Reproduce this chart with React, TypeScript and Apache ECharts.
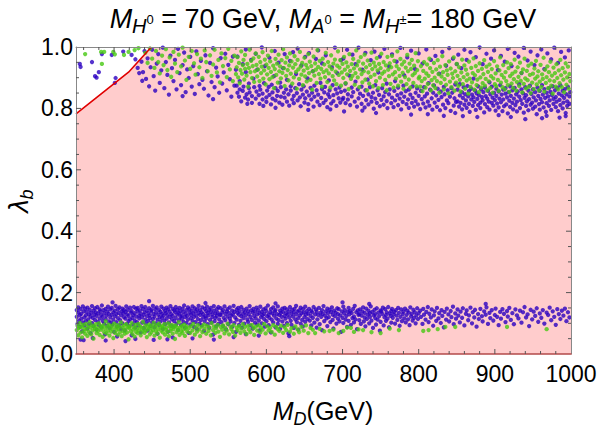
import React, { useEffect, useRef } from "react";
import * as echarts from "echarts";

const FONT = "'Liberation Sans', Arial, Helvetica, sans-serif";

// ---- axis ranges & ticks ----
const xRange = [350, 1000];
const yRange = [0, 1];
const xMajorTicks = [400, 500, 600, 700, 800, 900];
const xMinorTicks = [360, 380, 420, 440, 460, 480, 520, 540, 560, 580, 620, 640, 660, 680, 720, 740, 760, 780, 820, 840, 860, 880, 920, 940, 960, 980];
const yMajorTicks = [0.2, 0.4, 0.6, 0.8];
const yMinorTicks = [0.05, 0.1, 0.15, 0.25, 0.3, 0.35, 0.45, 0.5, 0.55, 0.65, 0.7, 0.75, 0.85, 0.9, 0.95];

// ---- allowed (pink) region boundary and red constraint line ----
const pinkEdge = [[350, 0.782], [419, 0.918], [449, 1.0], [1000, 1.0]];
const redEdge = [[350, 0.782], [419, 0.918], [449, 1.0]];

// ---- blue points, lower band ----
const blueLowA = [[351,.121],[351,.143],[352,.098],[353,.135],[353,.152],[354,.109],[355,.127],[355,.088],[356,.146],[357,.115],[357,.131],[358,.074],[359,.155],[359,.103],[360,.139],[361,.119],[361,.093],[362,.148],[363,.126],[363,.107],[364,.137],[365,.083],[365,.151],[366,.113],[367,.129],[367,.097],[368,.144],[369,.122],[369,.068],[370,.134],[371,.156],[371,.101],[372,.118],[373,.141],[373,.091],[374,.128],[375,.149],[375,.111],[376,.136],[377,.079],[377,.124],[378,.153],[379,.105],[379,.132],[380,.095],[381,.145],[381,.116],[382,.139],[383,.087],[383,.127],[384,.158],[385,.108],[385,.121],[386,.143],[387,.099],[387,.133],[388,.064],[389,.147],[389,.114],[390,.125],[391,.092],[391,.138],[392,.154],[393,.106],[393,.131],[394,.085],[395,.119],[395,.145],[396,.102],[397,.128],[397,.150],[398,.096],[399,.136],[399,.112],[400,.072],[401,.141],[401,.123],[402,.157],[403,.104],[403,.130],[404,.089],[405,.146],[405,.117],[406,.134],[407,.094],[407,.152],[408,.110],[409,.126],[409,.081],[410,.139],[411,.148],[411,.100],[412,.132],[413,.120],[413,.143],[414,.077],[415,.137],[415,.115],[416,.155],[417,.098],[417,.129],[418,.144],[419,.107],[419,.124],[420,.090],[421,.151],[421,.113],[422,.135],[423,.061],[423,.140],[424,.118],[425,.127],[425,.097],[426,.153],[427,.109],[427,.133],[428,.086],[429,.147],[429,.122],[430,.104]];
const blueLowB = [[431,.138],[431,.150],[432,.093],[433,.125],[433,.116],[434,.142],[435,.070],[435,.131],[436,.156],[437,.102],[437,.119],[438,.147],[439,.084],[439,.128],[440,.136],[441,.111],[441,.153],[442,.099],[443,.123],[443,.141],[444,.076],[445,.133],[445,.108],[446,.149],[447,.117],[447,.126],[448,.091],[449,.144],[449,.139],[450,.103],[451,.157],[451,.114],[452,.130],[453,.087],[453,.122],[454,.146],[455,.100],[455,.135],[456,.152],[457,.112],[457,.066],[458,.128],[459,.143],[459,.095],[460,.120],[461,.137],[461,.106],[462,.154],[463,.118],[463,.131],[464,.082],[465,.148],[465,.125],[466,.109],[467,.140],[467,.097],[468,.134],[469,.151],[469,.115],[470,.127],[471,.073],[471,.145],[472,.103],[473,.138],[473,.121],[474,.156],[475,.092],[475,.130],[476,.113],[477,.147],[477,.124],[478,.089],[479,.142],[479,.107],[480,.136],[481,.153],[481,.118],[482,.098],[483,.129],[483,.144],[484,.078],[485,.133],[485,.110],[486,.150],[487,.122],[487,.139],[488,.094],[489,.126],[489,.115],[490,.148],[491,.105],[491,.137],[492,.158],[493,.120],[493,.086],[494,.131],[495,.143],[495,.101],[496,.124],[497,.152],[497,.112],[498,.069],[499,.135],[499,.146],[500,.096],[501,.128],[501,.117],[502,.141],[503,.155],[503,.108],[504,.132],[505,.088],[505,.121],[506,.149],[507,.104],[507,.138],[508,.125],[509,.081],[509,.145],[510,.114],[511,.134],[511,.157],[512,.099],[513,.127],[513,.143],[514,.110],[515,.136],[515,.093],[516,.152],[517,.119],[517,.130],[518,.075],[519,.147],[519,.106],[520,.123],[521,.140],[521,.116],[522,.154],[523,.097],[523,.133],[524,.126],[525,.085],[525,.144],[526,.111],[527,.137],[527,.150],[528,.102],[529,.129],[529,.120],[530,.063],[531,.141],[531,.156],[532,.107],[533,.132],[533,.118],[534,.090],[535,.146],[535,.124],[536,.135],[537,.098],[537,.153],[538,.113],[539,.128]];
const blueLowC = [[540,.127],[540,.149],[541,.104],[542,.136],[543,.091],[543,.143],[544,.118],[545,.155],[546,.110],[546,.131],[547,.080],[548,.139],[549,.122],[549,.146],[550,.097],[551,.133],[552,.115],[552,.152],[553,.106],[554,.125],[555,.088],[555,.141],[556,.129],[557,.157],[558,.101],[558,.137],[559,.119],[560,.072],[561,.145],[561,.112],[562,.134],[563,.150],[564,.095],[564,.128],[565,.140],[566,.108],[567,.123],[567,.153],[568,.086],[569,.131],[570,.117],[570,.144],[571,.099],[572,.136],[573,.126],[573,.065],[574,.148],[575,.113],[576,.139],[576,.105],[577,.130],[578,.156],[579,.093],[579,.121],[580,.142],[581,.111],[582,.135],[582,.083],[583,.147],[584,.124],[585,.102],[585,.138],[586,.116],[587,.151],[588,.096],[588,.129],[589,.143],[590,.109],[591,.133],[591,.077],[592,.154],[593,.120],[594,.137],[594,.100],[595,.126],[596,.145],[597,.114],[597,.131],[598,.089],[599,.149],[600,.107],[600,.140],[601,.123],[602,.158],[603,.094],[603,.128],[604,.118],[605,.136],[606,.070],[606,.146],[607,.112],[608,.132],[609,.103],[609,.152],[610,.125],[611,.139],[612,.087],[612,.143],[613,.116],[614,.130],[615,.098],[615,.155],[616,.110],[617,.127],[618,.141],[618,.082],[619,.134],[620,.121],[621,.148],[621,.106],[622,.137],[623,.092],[624,.124],[624,.150],[625,.115],[626,.133],[627,.101],[627,.145],[628,.128],[629,.067],[630,.139],[630,.119],[631,.153],[632,.108],[633,.131],[633,.095],[634,.144],[635,.122],[636,.136],[636,.085],[637,.147],[638,.113],[639,.129],[639,.157],[640,.104],[641,.138],[642,.117],[642,.079],[643,.142],[644,.126],[645,.151],[645,.099],[646,.133],[647,.111],[648,.146],[648,.090],[649,.135],[650,.120],[651,.154],[651,.105],[652,.128],[653,.140],[654,.114]];
const blueLowD = [[655,.132],[656,.147],[657,.109],[658,.124],[659,.141],[659,.093],[660,.136],[661,.118],[662,.153],[663,.102],[664,.129],[665,.145],[666,.086],[666,.138],[667,.113],[668,.127],[669,.150],[670,.097],[671,.134],[672,.121],[673,.143],[673,.078],[674,.131],[675,.156],[676,.107],[677,.125],[678,.139],[679,.116],[680,.148],[680,.091],[681,.133],[682,.120],[683,.144],[684,.104],[685,.137],[686,.152],[687,.111],[687,.128],[688,.083],[689,.141],[690,.123],[691,.135],[692,.099],[693,.149],[694,.115],[694,.130],[695,.146],[696,.106],[697,.126],[698,.072],[699,.139],[700,.118],[701,.154],[701,.101],[702,.132],[703,.143],[704,.112],[705,.124],[706,.088],[707,.137],[708,.150],[708,.108],[709,.129],[710,.140],[711,.095],[712,.134],[713,.117],[714,.147],[715,.103],[715,.122],[716,.157],[717,.113],[718,.136],[719,.081],[720,.142],[721,.127],[722,.110],[722,.131],[723,.145],[724,.098],[725,.125],[726,.138],[727,.152],[728,.106],[729,.119],[729,.134],[730,.090],[731,.148],[732,.114],[733,.128],[734,.141],[735,.100],[736,.133],[736,.121],[737,.155],[738,.109],[739,.137],[740,.085],[741,.126],[742,.144],[743,.117],[743,.130],[744,.096],[745,.149],[746,.112],[747,.135],[748,.123],[749,.076],[750,.142],[750,.105],[751,.139],[752,.131],[753,.151],[754,.093],[755,.120],[756,.146],[757,.108],[757,.127],[758,.136],[759,.115],[760,.153],[761,.087],[762,.132],[763,.124],[764,.140],[764,.102],[765,.147],[766,.118],[767,.129],[768,.137],[769,.099],[770,.143],[771,.125],[772,.111],[773,.150],[774,.134],[775,.092],[776,.121],[777,.145],[778,.107],[779,.130],[780,.138],[781,.116],[782,.148],[783,.103],[784,.127],[785,.141],[786,.113],[787,.135],[788,.094],[789,.152],[790,.122],[791,.131],[792,.109],[793,.144],[794,.118],[795,.136],[796,.100],[797,.126],[798,.149],[799,.114],[800,.133]];
const blueLowE = [[802,.141],[803,.121],[805,.098],[806,.147],[807,.128],[809,.112],[810,.137],[812,.153],[813,.104],[814,.131],[816,.119],[817,.145],[819,.092],[820,.126],[821,.139],[823,.108],[824,.150],[826,.116],[827,.133],[829,.101],[830,.143],[831,.124],[833,.087],[834,.137],[836,.112],[837,.148],[839,.129],[840,.106],[842,.140],[843,.120],[845,.154],[846,.097],[848,.132],[849,.115],[851,.145],[852,.125],[854,.103],[855,.138],[857,.118],[858,.149],[860,.093],[862,.131],[863,.142],[865,.110],[866,.126],[868,.151],[870,.100],[871,.136],[873,.119],[874,.144],[876,.089],[878,.130],[879,.114],[881,.147],[883,.123],[884,.106],[886,.139],[888,.128],[889,.152],[891,.098],[893,.134],[894,.117],[896,.143],[898,.109],[900,.127],[901,.148],[903,.121],[905,.094],[907,.137],[908,.115],[910,.146],[912,.131],[914,.104],[916,.140],[917,.122],[919,.150],[921,.111],[923,.133],[925,.097],[927,.145],[929,.126],[931,.116],[933,.141],[935,.102],[937,.136],[939,.153],[941,.119],[943,.129],[945,.091],[947,.144],[949,.113],[951,.138],[953,.124],[955,.149],[957,.105],[959,.132],[961,.118],[963,.143],[965,.099],[968,.135],[970,.127],[972,.151],[974,.110],[976,.139],[978,.121],[980,.095],[982,.146],[984,.130],[986,.114],[988,.141],[990,.125],[992,.148],[994,.107],[996,.136],[998,.119]];
const blueLowExtra = [[398,.168],[446,.172],[520,.166],[612,.165],[700,.168],[735,.163],[888,.163],[360,.045],[415,.042],[470,.048],[356,.047],[372,.052],[389,.044],[404,.057],[428,.049],[452,.046],[477,.054],[503,.051],[531,.047],[557,.055],[590,.060],[630,.058]];

// ---- green points, lower band ----
const greenLowA = [[351,.078],[352,.092],[353,.061],[354,.085],[355,.101],[356,.070],[357,.088],[358,.054],[359,.095],[360,.074],[361,.083],[362,.066],[363,.098],[364,.080],[365,.059],[366,.090],[367,.072],[368,.104],[369,.086],[370,.064],[371,.093],[372,.077],[373,.050],[374,.089],[375,.081],[376,.097],[377,.068],[378,.084],[379,.075],[380,.100],[381,.062],[382,.091],[383,.079],[384,.087],[385,.056],[386,.094],[387,.071],[388,.083],[389,.106],[390,.067],[391,.089],[392,.076],[393,.096],[394,.060],[395,.085],[396,.073],[397,.092],[398,.081],[399,.052],[400,.099],[401,.069],[402,.087],[403,.078],[404,.094],[405,.063],[406,.082],[407,.090],[408,.071],[409,.103],[410,.058],[411,.086],[412,.075],[413,.093],[414,.066],[415,.080],[416,.097],[417,.070],[418,.088],[419,.048],[420,.084],[421,.091],[422,.074],[423,.101],[424,.065],[425,.079],[426,.087],[427,.057],[428,.095],[429,.072],[430,.083],[431,.068],[432,.098],[433,.077],[434,.090],[435,.061],[436,.086],[437,.073],[438,.105],[439,.082],[440,.069],[441,.093],[442,.076],[443,.055],[444,.089],[445,.080],[446,.096],[447,.064],[448,.085],[449,.071],[450,.092],[451,.078],[452,.102],[453,.060],[454,.087],[455,.074],[456,.094],[457,.067],[458,.081],[459,.099],[460,.053],[461,.088],[462,.076],[463,.091],[464,.070],[465,.084],[466,.097],[467,.063],[468,.079],[469,.086],[470,.072],[471,.100],[472,.058],[473,.090],[474,.075],[475,.083],[476,.095],[477,.066],[478,.081],[479,.089],[480,.049],[481,.093],[482,.071],[483,.085],[484,.078],[485,.104],[486,.062],[487,.087],[488,.074],[489,.092],[490,.068],[491,.080],[492,.096],[493,.059],[494,.083],[495,.090],[496,.073]];
const greenLowB = [[498,.084],[500,.069],[501,.091],[503,.077],[504,.098],[506,.063],[507,.086],[509,.073],[510,.094],[512,.080],[513,.058],[515,.089],[516,.071],[518,.096],[519,.082],[521,.066],[522,.092],[524,.075],[525,.087],[527,.061],[528,.101],[530,.078],[531,.090],[533,.069],[534,.084],[536,.095],[537,.073],[539,.056],[540,.088],[542,.079],[543,.093],[545,.067],[546,.085],[548,.076],[549,.099],[551,.064],[553,.089],[554,.081],[556,.072],[557,.094],[559,.060],[561,.086],[562,.077],[564,.091],[566,.069],[567,.083],[569,.097],[571,.074],[572,.088],[574,.065],[576,.092],[577,.080],[579,.071],[581,.095],[583,.084],[584,.062],[586,.089],[588,.076],[590,.093],[592,.070],[593,.086],[595,.079],[597,.098],[599,.067],[601,.090],[603,.077],[605,.085],[607,.072],[609,.094],[611,.063],[613,.088],[615,.081],[617,.075],[619,.092],[622,.069],[624,.087],[626,.078],[628,.095],[631,.073],[633,.084],[636,.066],[638,.090],[641,.080],[643,.071],[646,.088],[649,.076],[652,.093],[655,.068],[658,.085],[661,.079]];
const greenLowC = [[664,.068],[670,.082],[676,.074],[683,.075],[688,.079],[695,.068],[701,.075],[706,.086],[711,.085],[715,.072],[721,.080],[727,.078],[738,.071],[750,.068],[762,.083],[774,.078],[806,.075],[813,.078],[825,.081],[835,.088],[848,.088],[916,.088],[968,.081]];

// ---- blue points, upper band ----
const blueUpA = [[436,.952],[438,.918],[440,.987],[442,.896],[444,.963],[446,.872],[448,.934],[450,.991],[452,.905],[454,.858],[456,.946],[458,.977],[460,.883],[462,.924],[464,.998],[466,.866],[468,.951],[470,.909],[472,.845],[474,.972],[476,.931],[478,.889],[480,.958],[482,.862],[484,.994],[486,.915],[488,.876],[490,.941],[492,.982],[494,.853],[496,.927],[498,.899],[500,.968],[502,.871],[504,.938],[506,.847],[508,.986],[510,.912],[512,.879],[514,.955],[516,.893],[518,.864],[520,.973],[522,.921],[524,.842],[526,.948],[528,.886],[530,.996],[532,.869],[534,.933],[536,.904],[538,.851],[540,.964],[542,.881],[544,.917],[546,.978],[548,.859],[550,.942],[552,.895],[554,.838],[556,.969],[558,.874],[560,.926],[428,.960],[431,.932],[433,.915],[437,.890]];
const blueUpB = [[561,.874],[562,.851],[562,.969],[564,.838],[565,.862],[565,.889],[567,.823],[569,.944],[569,.857],[570,.871],[572,.835],[573,.992],[573,.918],[574,.846],[576,.829],[577,.881],[577,.866],[578,.852],[580,.958],[581,.818],[581,.840],[583,.897],[584,.869],[586,.832],[586,.978],[587,.855],[588,.926],[590,.843],[591,.815],[591,.873],[592,.861],[594,.999],[595,.829],[595,.848],[597,.882],[598,.938],[600,.836],[600,.821],[601,.858],[603,.870],[604,.965],[604,.844],[606,.813],[607,.877],[608,.852],[608,.832],[610,.905],[611,.987],[612,.866],[612,.826],[614,.841],[615,.857],[616,.949],[617,.819],[618,.884],[619,.838],[619,.869],[621,.812],[622,.931],[623,.851],[624,.977],[624,.835],[626,.862],[627,.822],[627,.893],[629,.846],[630,.809],[631,.955],[632,.872],[632,.858],[634,.829],[635,.983],[636,.841],[636,.817],[638,.866],[639,.912],[640,.850],[641,.826],[641,.995],[643,.879],[644,.836],[645,.807],[646,.861],[646,.940],[648,.845],[649,.872],[650,.819],[651,.968],[651,.833],[653,.855],[654,.898],[655,.814],[656,.842],[656,.980],[658,.867],[659,.829],[660,.851],[661,.921],[662,.806],[663,.838],[663,.874],[665,.961],[666,.859],[667,.822],[668,.845],[668,.989],[670,.811],[671,.883],[672,.834],[673,.863],[673,.947],[675,.818],[676,.852],[677,.870],[678,.827],[678,.973],[680,.804],[681,.846],[682,.891],[683,.837],[683,.859],[685,.816],[686,.934],[687,.876],[688,.843],[688,.824],[690,.998],[691,.862],[692,.808],[693,.849],[693,.915],[695,.833],[696,.868],[697,.819],[698,.957],[698,.854],[700,.829]];
const blueUpC = [[701,.834],[701,.962],[703,.858],[704,.817],[704,.881],[706,.991],[707,.829],[707,.846],[709,.907],[710,.811],[712,.868],[712,.839],[713,.975],[714,.853],[716,.822],[717,.944],[717,.887],[719,.806],[720,.862],[721,.833],[721,.998],[723,.848],[725,.815],[725,.871],[726,.926],[727,.841],[729,.803],[730,.859],[730,.981],[731,.827],[733,.894],[734,.846],[734,.813],[736,.869],[737,.957],[738,.822],[738,.837],[740,.851],[741,.799],[742,.985],[743,.876],[743,.832],[745,.818],[746,.859],[747,.917],[748,.844],[749,.807],[749,.969],[751,.828],[752,.866],[754,.839],[754,.812],[755,.994],[756,.853],[758,.881],[758,.824],[759,.801],[761,.937],[761,.846],[762,.862],[764,.817],[765,.976],[765,.835],[767,.804],[768,.857],[769,.889],[769,.826],[771,.952],[772,.843],[773,.811],[773,.868],[775,.832],[776,.997],[777,.849],[777,.797],[779,.821],[780,.874],[781,.908],[781,.838],[783,.856],[784,.814],[785,.966],[786,.829],[787,.802],[787,.861],[789,.845],[790,.988],[791,.818],[792,.872],[792,.834],[794,.806],[795,.929],[796,.851],[796,.824],[798,.865],[799,.813],[800,.979],[800,.841],[802,.798],[803,.857],[804,.830],[805,.946],[806,.816],[807,.869],[808,.839],[809,.803],[810,.992],[811,.848],[812,.822],[813,.882],[814,.809],[815,.861],[816,.958],[817,.833],[818,.796],[819,.851],[820,.875],[821,.819],[822,.971],[823,.842],[824,.805],[825,.864],[826,.828],[827,.913],[828,.794],[829,.855],[830,.837],[831,.984],[832,.812],[833,.870],[834,.846],[835,.801],[836,.939],[837,.826],[838,.859],[839,.817],[840,.996],[841,.838],[842,.792],[843,.866],[844,.851],[845,.962],[846,.809],[847,.833],[848,.878],[849,.821],[850,.944],[848,.785]];
const blueUpD = [[851,.823],[851,.861],[852,.975],[853,.806],[854,.842],[854,.879],[855,.818],[856,.931],[857,.852],[857,.797],[858,.834],[859,.869],[860,.991],[860,.812],[861,.846],[862,.826],[863,.802],[863,.958],[864,.873],[865,.839],[866,.815],[866,.856],[867,.789],[868,.983],[869,.829],[869,.864],[870,.845],[871,.808],[872,.897],[872,.836],[873,.821],[874,.858],[875,.795],[875,.967],[876,.849],[877,.831],[878,.872],[878,.811],[879,.843],[880,.999],[881,.819],[881,.801],[882,.862],[883,.837],[884,.944],[884,.826],[885,.853],[886,.787],[887,.868],[887,.814],[888,.840],[889,.978],[890,.804],[890,.832],[891,.857],[892,.822],[893,.885],[893,.796],[894,.846],[895,.962],[896,.818],[896,.871],[897,.835],[898,.809],[899,.851],[899,.989],[900,.827],[901,.793],[902,.864],[902,.841],[903,.816],[904,.925],[905,.855],[905,.803],[906,.832],[907,.876],[908,.820],[908,.971],[909,.845],[910,.791],[911,.861],[911,.829],[912,.807],[913,.952],[914,.848],[914,.866],[915,.813],[916,.836],[917,.784],[917,.994],[918,.853],[919,.825],[920,.872],[920,.805],[921,.841],[922,.938],[923,.818],[923,.859],[924,.797],[925,.832],[926,.981],[926,.867],[927,.811],[928,.846],[929,.822],[929,.790],[930,.855],[931,.969],[932,.838],[932,.879],[933,.801],[934,.827],[935,.862],[935,.915],[936,.815],[937,.849],[938,.786],[938,.997],[939,.834],[940,.869],[941,.808],[941,.843],[942,.823],[943,.956],[944,.858],[944,.794],[945,.830],[946,.874],[947,.812],[947,.985],[948,.847],[949,.819],[950,.862],[950,.799],[951,.836],[952,.941],[953,.806],[953,.853],[954,.826],[955,.781],[956,.868],[956,.973],[957,.841],[958,.814],[959,.857],[959,.796],[960,.831],[961,.992],[962,.876],[962,.820],[963,.845],[964,.803],[965,.863],[965,.928],[966,.834],[967,.789],[968,.851],[968,.817],[969,.979],[970,.839],[971,.866],[971,.808],[972,.826],[973,.854],[974,.960],[974,.795],[975,.843],[976,.872],[977,.815],[977,.831],[978,.998],[979,.859],[980,.804],[980,.837],[981,.822],[982,.867],[983,.948],[983,.791],[984,.848],[985,.828],[986,.811],[986,.875],[987,.984],[988,.842],[989,.800],[989,.857],[990,.819],[991,.834],[992,.966],[992,.863],[993,.785],[994,.846],[995,.823],[995,.808],[996,.870],[997,.989],[998,.839],[998,.815],[999,.853],[921,.772],[962,.768],[993,.775]];
const blueUpSparse = [[490,.840],[530,.830],[575,.815],[612,.802],[655,.795],[702,.790],[744,.785],[790,.780],[833,.776],[877,.772],[940,.765],[985,.770],[596,.808],[684,.797],[726,.793],[812,.781],[858,.775],[905,.778],[968,.776]];
const blueCorner = [[355,.945],[356,.935],[371,.951],[375,.905],[377,.900],[380,.918],[384,.977],[397,.974],[412,.985],[423,.974],[402,.899],[401,.883]];

// ---- green points, upper band ----
const greenUpA = [[441,.981],[444,.948],[447,.995],[450,.962],[453,.932],[455,.987],[458,.951],[460,.914],[463,.972],[465,.941],[468,.993],[470,.925],[473,.966],[475,.903],[478,.984],[480,.946],[483,.918],[485,.975],[488,.937],[490,.998],[493,.956],[495,.893],[498,.968],[500,.929],[502,.987],[505,.947],[507,.910],[509,.977],[512,.934],[514,.962],[516,.899],[519,.989],[521,.951],[523,.921],[526,.973],[528,.906],[530,.943],[532,.991],[535,.917],[537,.958],[539,.885],[541,.979],[543,.938],[546,.964],[548,.902],[550,.994],[552,.927],[554,.955],[556,.889],[558,.972],[560,.912]];
const greenUpB = [[561,.934],[562,.967],[563,.901],[564,.948],[565,.882],[566,.925],[567,.986],[568,.913],[569,.941],[570,.958],[571,.894],[572,.929],[572,.974],[574,.907],[575,.945],[576,.871],[577,.932],[578,.991],[579,.918],[580,.955],[581,.899],[582,.938],[583,.963],[584,.886],[585,.921],[586,.979],[587,.942],[588,.904],[589,.927],[590,.968],[591,.889],[592,.951],[593,.915],[594,.936],[595,.983],[596,.897],[597,.924],[598,.959],[599,.878],[600,.943],[601,.911],[602,.972],[603,.932],[604,.895],[605,.953],[606,.919],[607,.987],[608,.902],[609,.939],[610,.866],[611,.928],[612,.961],[613,.909],[614,.946],[615,.884],[616,.975],[617,.921],[618,.937],[619,.898],[620,.957],[621,.916],[622,.993],[623,.931],[624,.873],[625,.949],[626,.906],[627,.966],[628,.925],[629,.891],[630,.940],[631,.979],[632,.913],[633,.953],[634,.881],[635,.933],[636,.901],[637,.970],[638,.944],[639,.919],[640,.864],[641,.958],[642,.927],[643,.896],[644,.984],[645,.936],[646,.910],[647,.948],[648,.876],[649,.923],[650,.965],[651,.904],[652,.942],[653,.888],[654,.931],[655,.977],[656,.915],[657,.952],[658,.893],[659,.938],[660,.861],[661,.921],[662,.969],[663,.907],[664,.947],[665,.926],[666,.883],[667,.990],[668,.935],[669,.912],[670,.955],[671,.897],[672,.929],[673,.871],[674,.962],[675,.918],[676,.943],[677,.902],[678,.981],[679,.924],[680,.886],[681,.951],[682,.914],[683,.937],[684,.868],[685,.973],[686,.928],[687,.905],[688,.946],[689,.891],[690,.959],[691,.920],[692,.879],[693,.939],[694,.986],[695,.909],[696,.933],[697,.957],[698,.874],[699,.917],[700,.945],[701,.899],[702,.968],[703,.926],[704,.882],[705,.950],[706,.911],[707,.936],[708,.863],[709,.977],[710,.922],[711,.896],[712,.944],[713,.906],[714,.961],[715,.930],[716,.877],[717,.915],[718,.989],[719,.940],[720,.901],[721,.953],[722,.869],[723,.927],[724,.967],[725,.912],[726,.885],[727,.946],[728,.921],[729,.975],[730,.894],[731,.934],[732,.859],[733,.956],[734,.917],[735,.881],[736,.942],[737,.903],[738,.982],[739,.928],[740,.872],[741,.949],[742,.910],[743,.937],[744,.889],[745,.964],[746,.924],[747,.866],[748,.945],[749,.900],[750,.931],[751,.978],[752,.913],[753,.876],[754,.951],[755,.920],[756,.893],[757,.940],[758,.859],[759,.968],[760,.926],[761,.905],[762,.947],[763,.880],[764,.934],[765,.971],[766,.911],[767,.868],[768,.955],[769,.918],[770,.897],[771,.938],[772,.986],[773,.874],[774,.928],[775,.906],[776,.961],[777,.887],[778,.943],[779,.916],[780,.864],[781,.952],[782,.902],[783,.933],[784,.879],[785,.974],[786,.921],[787,.894],[788,.946],[789,.868],[790,.929],[791,.958],[792,.908],[793,.883],[794,.939],[795,.915],[796,.980],[797,.872],[798,.925],[799,.954],[800,.898]];
const greenUpC = [[801,.903],[802,.871],[803,.938],[804,.889],[805,.856],[806,.922],[807,.951],[808,.897],[809,.868],[810,.914],[811,.943],[812,.880],[813,.906],[814,.962],[815,.931],[816,.859],[817,.892],[818,.919],[819,.875],[820,.948],[821,.900],[822,.866],[823,.927],[824,.889],[825,.957],[826,.912],[827,.851],[828,.936],[829,.883],[830,.904],[831,.970],[832,.918],[833,.862],[834,.895],[835,.941],[836,.877],[837,.924],[838,.909],[839,.849],[840,.953],[841,.887],[842,.930],[843,.869],[844,.913],[845,.899],[846,.966],[847,.858],[848,.921],[849,.884],[850,.945],[851,.906],[852,.873],[853,.934],[854,.893],[855,.855],[856,.917],[857,.959],[858,.879],[859,.902],[860,.940],[861,.864],[862,.926],[863,.891],[864,.911],[865,.848],[866,.952],[867,.897],[868,.870],[869,.932],[870,.885],[871,.915],[872,.963],[873,.861],[874,.908],[875,.938],[876,.876],[877,.894],[878,.922],[879,.853],[880,.947],[881,.901],[882,.868],[883,.929],[884,.882],[885,.912],[886,.957],[887,.874],[888,.896],[889,.936],[890,.859],[891,.919],[892,.888],[893,.943],[894,.866],[895,.905],[896,.928],[897,.851],[898,.898],[899,.954],[900,.879],[901,.914],[902,.872],[903,.937],[904,.893],[905,.857],[906,.924],[907,.966],[908,.884],[909,.909],[910,.869],[911,.941],[912,.900],[913,.862],[914,.918],[915,.889],[916,.950],[917,.876],[918,.931],[919,.854],[920,.905],[921,.944],[922,.881],[923,.913],[924,.867],[925,.895],[926,.959],[927,.920],[928,.858],[929,.886],[930,.934],[931,.903],[932,.873],[933,.949],[934,.890],[935,.916],[936,.852],[937,.927],[938,.880],[939,.962],[940,.898],[941,.865],[942,.922],[943,.892],[944,.939],[945,.871],[946,.909],[947,.850],[948,.946],[949,.884],[950,.913],[951,.863],[952,.930],[953,.897],[954,.955],[955,.878],[956,.904],[957,.921],[958,.859],[959,.887],[960,.942],[961,.870],[962,.911],[963,.896],[964,.965],[965,.855],[966,.926],[967,.883],[968,.902],[969,.937],[970,.866],[971,.918],[972,.891],[973,.952],[974,.874],[975,.907],[976,.848],[977,.933],[978,.889],[979,.915],[980,.871],[981,.944],[982,.899],[983,.862],[984,.924],[985,.882],[986,.958],[987,.908],[988,.869],[989,.931],[990,.894],[991,.853],[992,.917],[993,.947],[994,.877],[995,.901],[996,.936],[997,.864],[998,.912],[999,.889]];
const greenCorner = [[362,.977],[383,.984],[387,.984],[399,.984],[401,.976],[384,.945],[413,.974],[419,.984],[427,.990],[432,.996]];

const BLUE = "#2a00c0";
const GREEN = "#46c812";

export default function App() {
  const ref = useRef<HTMLDivElement>(null);
  useEffect(() => {
    document.body.style.margin = "0";
    const chart = echarts.init(ref.current!, null, { renderer: "svg" });

    const blue = [...blueLowA, ...blueLowB, ...blueLowC, ...blueLowD, ...blueLowE, ...blueLowExtra, ...blueUpA, ...blueUpB, ...blueUpC, ...blueUpD, ...blueUpSparse, ...blueCorner];
    const green = [...greenLowA, ...greenLowB, ...greenLowC, ...greenUpA, ...greenUpB, ...greenUpC, ...greenCorner];

    const xTickData = [...xMajorTicks.map((v) => [v, 0.5, 1]), ...xMinorTicks.map((v) => [v, 0.5, 0])];
    const yTickData = [...yMajorTicks.map((v) => [675, v, 1]), ...yMinorTicks.map((v) => [675, v, 0])];

    const tickStyle = { stroke: "#555", lineWidth: 1 };
    const rich = (main: number, sub: number, sup: number) => ({
      m: { fontStyle: "italic", fontSize: main, lineHeight: 34, fontFamily: FONT, fill: "#000" },
      n: { fontSize: main, lineHeight: 34, fontFamily: FONT, fill: "#000" },
      s: { fontStyle: "italic", fontSize: sub, lineHeight: sub, verticalAlign: "bottom", fontFamily: FONT, fill: "#000" },
      p: { fontSize: sup, lineHeight: sup, verticalAlign: "middle", fontFamily: FONT, fill: "#000" },
    });

    const option: any = {
      animation: false,
      backgroundColor: "#ffffff",
      textStyle: { fontFamily: FONT },
      grid: { left: 76, right: 29, top: 47, bottom: 75, show: false },
      xAxis: [
        {
          type: "value", min: xRange[0], max: xRange[1], splitNumber: 7, z: 10,
          axisLine: { show: true, onZero: false, lineStyle: { color: "#b34a4a", width: 1.5 } },
          axisTick: { show: false }, splitLine: { show: false },
          axisLabel: {
            margin: 8, fontSize: 23, color: "#000", fontFamily: FONT, showMinLabel: false,
            formatter: (v: number) => (v % 100 === 0 ? String(v) : ""),
          },
        },
        {
          type: "value", position: "top", min: xRange[0], max: xRange[1], z: 10,
          axisLine: { show: true, onZero: false, lineStyle: { color: "#888", width: 1 } },
          axisTick: { show: false }, splitLine: { show: false }, axisLabel: { show: false },
        },
      ],
      yAxis: [
        {
          type: "value", min: yRange[0], max: yRange[1], interval: 0.2, z: 10,
          axisLine: { show: true, onZero: false, lineStyle: { color: "#888", width: 1 } },
          axisTick: { show: false }, splitLine: { show: false },
          axisLabel: { margin: 3, fontSize: 23, color: "#000", fontFamily: FONT, formatter: (v: number) => v.toFixed(1) },
        },
        {
          type: "value", position: "right", min: yRange[0], max: yRange[1], interval: 0.2, z: 10,
          axisLine: { show: true, onZero: false, lineStyle: { color: "#888", width: 1 } },
          axisTick: { show: false }, splitLine: { show: false }, axisLabel: { show: false },
        },
      ],
      series: [
        {
          type: "line", data: pinkEdge, symbol: "none", z: 1, silent: true,
          lineStyle: { width: 0 }, areaStyle: { color: "#ffcccc", opacity: 1 },
        },
        {
          type: "scatter", data: blue, symbol: "circle", symbolSize: 4.3, z: 3, silent: true,
          itemStyle: { color: BLUE },
        },
        {
          type: "scatter", data: green, symbol: "circle", symbolSize: 4.3, z: 4, silent: true,
          itemStyle: { color: GREEN },
        },
        {
          type: "line", data: redEdge, symbol: "none", z: 5, silent: true,
          lineStyle: { color: "#e00000", width: 1.6 },
        },
        {
          type: "custom", data: xTickData, z: 11, silent: true, clip: false,
          encode: { x: 0, y: 1 },
          renderItem: (params: any, api: any) => {
            const v = api.value(0);
            const len = api.value(2) === 1 ? 5 : 3;
            const b = api.coord([v, yRange[0]]);
            const t = api.coord([v, yRange[1]]);
            return {
              type: "group",
              children: [
                { type: "line", shape: { x1: b[0], y1: b[1], x2: b[0], y2: b[1] - len }, style: tickStyle },
                { type: "line", shape: { x1: t[0], y1: t[1], x2: t[0], y2: t[1] + len }, style: tickStyle },
              ],
            };
          },
        },
        {
          type: "custom", data: yTickData, z: 11, silent: true, clip: false,
          encode: { x: 0, y: 1 },
          renderItem: (params: any, api: any) => {
            const v = api.value(1);
            const len = api.value(2) === 1 ? 5 : 3;
            const l = api.coord([xRange[0], v]);
            const r = api.coord([xRange[1], v]);
            return {
              type: "group",
              children: [
                { type: "line", shape: { x1: l[0], y1: l[1], x2: l[0] + len, y2: l[1] }, style: tickStyle },
                { type: "line", shape: { x1: r[0], y1: r[1], x2: r[0] - len, y2: r[1] }, style: tickStyle },
              ],
            };
          },
        },
      ],
      graphic: [
        {
          type: "text", x: 323, y: 19, z: 20,
          style: {
            text: "{m|M}{s|H}{p|0}{n| = 70 GeV, }{m|M}{s|A}{p|0}{n| = }{m|M}{s|H}{p|±}{n|= 180 GeV}",
            align: "center", verticalAlign: "middle", fill: "#000", fontFamily: FONT, fontSize: 27,
            rich: rich(27, 20, 13),
          },
        },
        {
          type: "text", x: 323, y: 411, z: 20,
          style: {
            text: "{m|M}{s|D}{n|(GeV)}",
            align: "center", verticalAlign: "middle", fill: "#000", fontFamily: FONT, fontSize: 25,
            rich: rich(25, 18, 12),
          },
        },
        {
          type: "text", x: 19, y: 201, z: 20, rotation: Math.PI / 2,
          style: {
            text: "{m|λ}{s|b}",
            align: "center", verticalAlign: "middle", fill: "#000", fontFamily: FONT, fontSize: 27,
            rich: rich(27, 18, 12),
          },
        },
      ],
    };
    chart.setOption(option);
    return () => chart.dispose();
  }, []);
  return <div ref={ref} style={{ width: 600, height: 429 }} />;
}
